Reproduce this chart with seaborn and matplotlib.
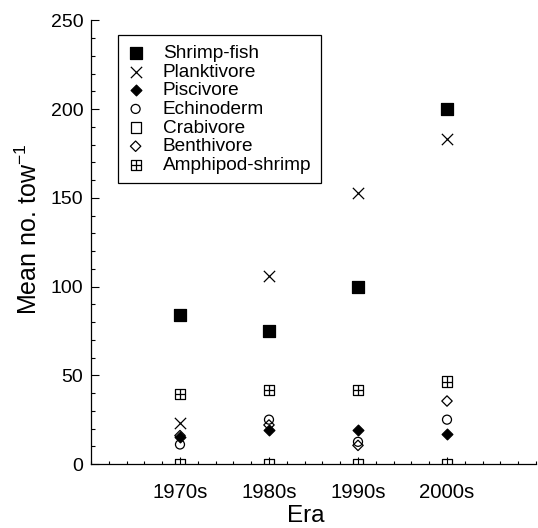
#!/usr/bin/env python3
"""Mean number per tow of trophic groups by era (scatter, seaborn)."""
import matplotlib
matplotlib.use("Agg")
import matplotlib.pyplot as plt
import numpy as np
import pandas as pd
import seaborn as sns
from matplotlib.path import Path
from matplotlib.ticker import MultipleLocator

sns.set_style("ticks")
plt.rcParams["font.family"] = ["Liberation Sans", "DejaVu Sans"]
plt.rcParams["mathtext.fontset"] = "custom"
plt.rcParams["mathtext.rm"] = "Liberation Sans"
plt.rcParams["mathtext.it"] = "Liberation Sans:italic"
for key in ["text.color", "axes.labelcolor", "xtick.color", "ytick.color"]:
    plt.rcParams[key] = "black"

# Data
eras = ["1970s", "1980s", "1990s", "2000s"]
era_years = [1970, 1980, 1990, 2000]
groups = ["Shrimp-fish", "Planktivore", "Piscivore", "Echinoderm",
          "Crabivore", "Benthivore", "Amphipod-shrimp"]
shrimp_fish = [84, 75, 100, 200]
planktivore = [23, 106, 153, 183]
piscivore = [15, 19, 19, 17]
echinoderm = [11, 25, 12.5, 25]
crabivore = [0, 0, 0, 0]
benthivore = [16, 22, 10.5, 35.5]
amphipod_shrimp = [39.5, 41.5, 41.5, 46.5]

values = [shrimp_fish, planktivore, piscivore, echinoderm,
          crabivore, benthivore, amphipod_shrimp]
df = pd.DataFrame({
    "year": np.tile(era_years, len(groups)),
    "group": np.repeat(groups, len(era_years)),
    "value": np.concatenate(values),
})

# square with a cross inside
boxplus = Path(
    [(-1, -1), (1, -1), (1, 1), (-1, 1), (-1, -1),
     (0, -1), (0, 1), (-1, 0), (1, 0)],
    [Path.MOVETO, Path.LINETO, Path.LINETO, Path.LINETO, Path.CLOSEPOLY,
     Path.MOVETO, Path.LINETO, Path.MOVETO, Path.LINETO],
)

# marker, size, filled
STYLES = {
    "Shrimp-fish": ("s", 66, True),
    "Planktivore": ("x", 66, False),
    "Piscivore": ("D", 30, True),
    "Echinoderm": ("o", 42, False),
    "Crabivore": ("s", 54, False),
    "Benthivore": ("D", 28, False),
    "Amphipod-shrimp": (boxplus, 54, False),
}

fig = plt.figure(figsize=(5.38, 5.28), dpi=100)
ax = fig.add_axes([0.1691, 0.1212, 0.8272, 0.84])

for g in groups:
    marker, size, filled = STYLES[g]
    sub = df[df["group"] == g]
    kws = dict(marker=marker, s=size, linewidth=0.9, label=g)
    if marker == "x":
        kws["color"] = "black"
    else:
        kws["facecolor"] = "black" if filled else "none"
        kws["edgecolor"] = "black"
    sns.scatterplot(data=sub, x="year", y="value", ax=ax, legend=False, **kws)

ax.set_xlim(1960, 2010)
ax.set_ylim(0, 250)
ax.set_xticks(era_years)
ax.set_xticklabels(eras)
ax.xaxis.set_minor_locator(MultipleLocator(2))
ax.yaxis.set_major_locator(MultipleLocator(50))
ax.yaxis.set_minor_locator(MultipleLocator(10))

ax.tick_params(axis="both", which="both", direction="in", width=0.8, color="black")
ax.tick_params(axis="y", which="major", length=6, pad=5.5, labelsize=14)
ax.tick_params(axis="y", which="minor", length=3)
ax.tick_params(axis="x", which="major", length=5, pad=14, labelsize=14.7)
ax.tick_params(axis="x", which="minor", length=2.5)

sns.despine(ax=ax)
for side in ["left", "bottom"]:
    ax.spines[side].set_linewidth(0.9)
    ax.spines[side].set_color("black")

ax.set_xlabel("Era", fontsize=17.5)
ax.xaxis.set_label_coords(0.482, -0.092)
ax.set_ylabel(r"Mean no. tow$^{-1}$", fontsize=18)
ax.yaxis.set_label_coords(-0.11, 0.53)

leg = ax.legend(loc="upper left", bbox_to_anchor=(0.0618, 0.967), borderaxespad=0,
                fontsize=13.7, frameon=True, fancybox=False, edgecolor="black",
                framealpha=1, labelspacing=0.07, handlelength=0.8, handletextpad=1.03,
                borderpad=0.5)
leg.get_frame().set_linewidth(0.9)

fig.savefig("out.png", dpi=100)
